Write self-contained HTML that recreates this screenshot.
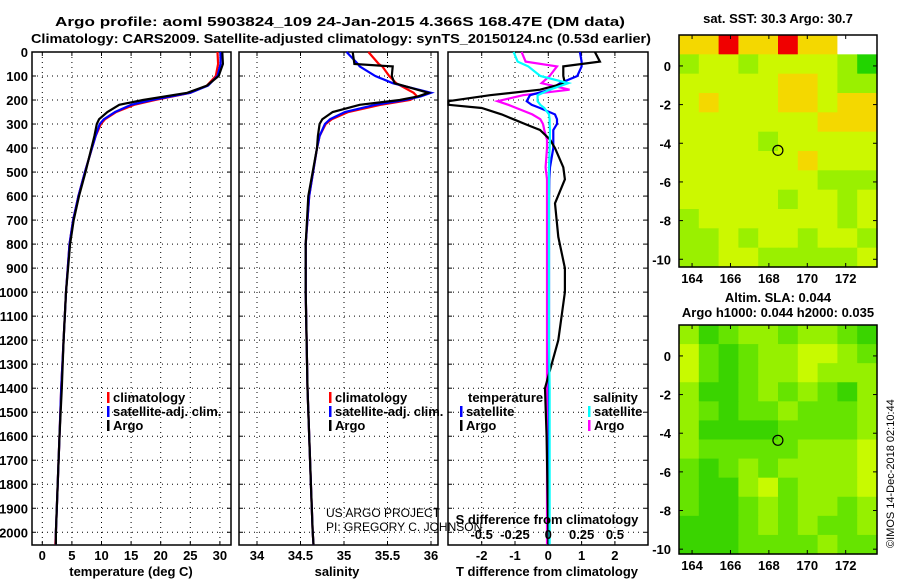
<!DOCTYPE html>
<html><head><meta charset="utf-8"><style>
body{margin:0;background:#fff;width:900px;height:580px;overflow:hidden}
svg{font-family:"Liberation Sans",sans-serif;display:block}
.b{font-weight:bold;font-size:13px}
</style></head><body>
<svg id="c" width="900" height="580" xmlns="http://www.w3.org/2000/svg">
<text class="b" x="55" y="26" font-size="15" textLength="570" lengthAdjust="spacingAndGlyphs">Argo profile: aoml 5903824_109 24-Jan-2015 4.366S 168.47E (DM data)</text>
<text class="b" x="31" y="43" font-size="14.5" textLength="620" lengthAdjust="spacingAndGlyphs">Climatology: CARS2009. Satellite-adjusted climatology: synTS_20150124.nc (0.53d earlier)</text>
<text class="b" x="778" y="23" text-anchor="middle" font-size="12">sat. SST: 30.3 Argo: 30.7</text>
<text class="b" x="778" y="302" text-anchor="middle" font-size="12">Altim. SLA: 0.044</text>
<text class="b" x="778" y="317" text-anchor="middle" font-size="12">Argo h1000: 0.044 h2000: 0.035</text>
<text x="0" y="0" font-size="11" transform="translate(894,548) rotate(-90)">©IMOS 14-Dec-2018 02:10:44</text>
<g id="g"></g>
</svg>
<script>
// ---- data ----
const depths=[0,50,100,140,170,200,220,250,280,300,350,400,500,600,700,800,1000,1200,1400,1600,1800,2000,2050];
const tempArgo=[30.4,30.5,29.8,27.8,24.5,17,13,11,9.6,9.2,8.8,8.3,7.3,6.2,5.3,4.7,4.0,3.6,3.3,2.9,2.6,2.3,2.3];
const tempClim=[29.6,29.7,29.3,27.8,25,19,15.5,12.5,10.6,9.9,9.0,8.4,7.2,6.1,5.2,4.6,4.0,3.6,3.2,2.9,2.6,2.3,2.2];
const tempSat=[30.1,30.1,29.6,28,25,18.5,15,12.3,10.4,9.7,9.0,8.4,7.2,6.1,5.2,4.6,4.0,3.6,3.2,2.9,2.6,2.3,2.3];
const salDepths=[0,50,60,100,130,170,185,200,220,250,280,300,350,400,600,800,1000,1400,1800,2000,2050];
const salArgo=[35.1,35.12,35.56,35.55,35.58,35.97,35.85,35.64,35.18,34.87,34.75,34.72,34.7,34.69,34.59,34.56,34.56,34.58,34.62,34.64,34.65];
const salClim=[35.28,35.4,35.44,35.52,35.6,35.8,35.84,35.76,35.42,35.05,34.86,34.79,34.72,34.69,34.6,34.56,34.56,34.58,34.62,34.64,34.65];
const salSat=[35.03,35.16,35.18,35.36,35.56,36.0,35.88,35.7,35.36,35.01,34.84,34.78,34.72,34.69,34.6,34.56,34.56,34.58,34.62,34.64,34.65];
const diffDepths=[0,40,60,100,130,157,180,205,220,233,260,280,300,325,365,400,480,530,630,770,900,1000,1200,1400,1600,2000,2050];
const dTArgo=[1.4,1.55,0.45,0.45,0.5,-0.25,-1.75,-3,-3,-2,-1.4,-1.05,-0.7,-0.25,0.05,0.2,0.45,0.5,0.2,0.3,0.5,0.5,0.3,-0.1,-0.05,0,0];
const dTSat=[0.95,1.0,1.0,0.87,0.35,0.05,-0.55,-0.65,-0.5,-0.25,0.2,0.26,0.26,0.15,0.15,0.15,0.05,0.03,0.02,0.02,0.02,0.02,0.02,0.02,0.02,0.02,0.02];
const dSArgo=[-0.2,-0.17,0.065,0.01,-0.05,0.16,-0.19,-0.38,-0.3,-0.24,-0.12,-0.06,-0.04,-0.03,-0.01,-0.01,-0.02,-0.01,-0.01,-0.01,-0.01,-0.01,-0.01,-0.01,-0.01,-0.01,-0.01];
const dSSat=[-0.26,-0.23,-0.15,-0.06,0.15,0.01,-0.08,-0.08,-0.06,-0.03,0.005,0.01,0.01,0.012,0.012,0.01,0.005,0.005,0.005,0.005,0.005,0.005,0.005,0.01,0.01,0.01,0.01];
const depthTicks=[0,100,200,300,400,500,600,700,800,900,1000,1100,1200,1300,1400,1500,1600,1700,1800,1900,2000];
const tempTicks=[0,5,10,15,20,25,30];
const salTicks=[34,34.5,35,35.5,36];
const salTickLabels=["34","34.5","35","35.5","36"];
const dTTicks=[-2,-1,0,1,2];
const dSTicks=[-0.5,-0.25,0,0.25,0.5];
const dSTickLabels=["-0.5","-0.25","0","0.25","0.5"];
const lonTicks=[164,166,168,170,172];
const latTicks=[0,-2,-4,-6,-8,-10];
const sstGrid=[
[3,3,4,3,3,4,3,3,5,5],[1,2,2,1,2,2,2,2,1,0],[2,2,2,2,2,3,3,2,1,1],[2,3,2,2,2,3,3,2,3,3],
[2,2,2,2,2,2,2,3,3,3],[2,2,2,2,1,2,2,2,2,2],[2,2,2,2,2,2,3,2,2,2],[2,2,2,2,2,2,2,1,1,1],
[2,2,2,2,2,1,2,2,1,2],[1,2,2,2,2,2,2,2,1,2],[1,1,2,1,2,2,1,2,2,1],[1,1,2,2,1,1,1,1,1,2]];
const slaGrid=[
[2,0,1,2,2,1,2,2,1,0],[3,1,0,1,2,2,3,3,2,1],[3,1,0,1,2,2,3,2,2,2],[2,0,0,1,2,1,2,1,0,2],
[2,1,0,1,1,2,1,1,1,2],[2,0,0,0,0,1,1,1,1,2],[2,1,1,1,1,1,2,2,2,3],[1,0,1,2,1,2,2,2,2,3],
[1,0,0,2,3,1,2,2,2,3],[1,0,0,1,2,1,2,2,1,2],[0,0,0,1,2,1,2,1,1,2],[0,0,0,1,1,1,1,2,1,1]];
const floatLon=168.47, floatLat=-4.366;

const NS="http://www.w3.org/2000/svg";
const G=document.getElementById('g');
function el(t,a,p){const e=document.createElementNS(NS,t);for(const k in a)e.setAttribute(k,a[k]);(p||G).appendChild(e);return e;}
function txt(x,y,s,a,p){const e=el('text',Object.assign({x:x,y:y},a||{}),p);e.textContent=s;return e;}

const TOP=52,BOT=545,DMAX=2053;
const yD=d=>TOP+(BOT-TOP)*d/DMAX;
function panel(name,x0,x1,dom,ticks,labels,xfn){
  const g=el('g',{});
  
  
  depthTicks.forEach(d=>{if(d>0){const y=yD(d);el('line',{x1:x0,x2:x1,y1:y,y2:y,stroke:'#000','stroke-dasharray':'1 4'},g);
    el('line',{x1:x0,x2:x0+4,y1:y,y2:y,stroke:'#000'},g);el('line',{x1:x1-4,x2:x1,y1:y,y2:y,stroke:'#000'},g);}});
  ticks.forEach(v=>{const x=xfn(v);el('line',{x1:x,x2:x,y1:TOP,y2:BOT,stroke:'#000','stroke-dasharray':'1 4'},g);
    el('line',{x1:x,x2:x,y1:TOP,y2:TOP+4,stroke:'#000'},g);el('line',{x1:x,x2:x,y1:BOT-4,y2:BOT,stroke:'#000'},g);});
  el('rect',{x:x0,y:TOP,width:x1-x0,height:BOT-TOP,fill:'none',stroke:'#000','stroke-width':1.5},g);
  return g;
}
function line(g,xs,ds,xfn,col,name){
  const pts=xs.map((v,i)=>xfn(v).toFixed(1)+','+yD(ds[i]).toFixed(1)).join(' ');
  const p=el('polyline',{points:pts,fill:'none',stroke:col,'stroke-width':2.2},g);
  
  
}
function legend(g,x,y,col,label,name){
  const r=el('rect',{x:x,y:y-10,width:2.5,height:11,fill:col},g);
  const t=txt(x+6,y,label,{class:'b'},g);
  
  
}
depthTicks.forEach(d=>{const t=txt(28,yD(d)+5,String(d),{class:'b','text-anchor':'end'});
  
  });

const xT=v=>42.3+5.92*v;
const p1=panel('temperature-panel',32,231,null,tempTicks,null,xT);
line(p1,tempClim,depths,xT,'#f00','temp-climatology-line');
line(p1,tempSat,depths,xT,'#00f','temp-satellite-line');
line(p1,tempArgo,depths,xT,'#000','temp-argo-line');
tempTicks.forEach(v=>txt(xT(v),560,String(v),{class:'b','text-anchor':'middle'}));
txt(131,576,'temperature (deg C)',{class:'b','text-anchor':'middle'});
legend(p1,107,402,'#f00','climatology','legend-climatology');
legend(p1,107,416,'#00f','satellite-adj. clim.','legend-satellite');
legend(p1,107,430,'#000','Argo','legend-argo');

const xS=v=>257+87*(v-34);
const p2=panel('salinity-panel',239,438,null,salTicks,null,xS);
line(p2,salClim,salDepths,xS,'#f00','sal-climatology-line');
line(p2,salSat,salDepths,xS,'#00f','sal-satellite-line');
line(p2,salArgo,salDepths,xS,'#000','sal-argo-line');
salTicks.forEach((v,i)=>txt(xS(v),560,salTickLabels[i],{class:'b','text-anchor':'middle'}));
txt(337,576,'salinity',{class:'b','text-anchor':'middle'});
legend(p2,329,402,'#f00','climatology','legend-climatology');
legend(p2,329,416,'#00f','satellite-adj. clim.','legend-satellite');
legend(p2,329,430,'#000','Argo','legend-argo');
txt(326,517,'US ARGO PROJECT',{'font-size':12});
txt(326,531,'PI: GREGORY C. JOHNSON',{'font-size':12});

const xDT=v=>548.3+33.3*v;
const xDS=v=>548.3+133.3*v;
const p3=panel('difference-panel',448,648,null,dTTicks,null,xDT);
line(p3,dSArgo,diffDepths,xDS,'#f0f','sal-argo-diff-line');
line(p3,dTSat,diffDepths,xDT,'#00f','temp-satellite-diff-line');
line(p3,dTArgo,diffDepths,xDT,'#000','temp-argo-diff-line');
line(p3,dSSat,diffDepths,xDS,'#0ff','sal-satellite-diff-line');
dTTicks.forEach(v=>txt(xDT(v),560,String(v),{class:'b','text-anchor':'middle'}));
dSTicks.forEach((v,i)=>txt(xDS(v),539,dSTickLabels[i],{class:'b','text-anchor':'middle'}));
txt(547,524,'S difference from climatology',{class:'b','text-anchor':'middle'});
txt(547,576,'T difference from climatology',{class:'b','text-anchor':'middle'});
txt(468,402,'temperature',{class:'b'});
legend(p3,460,416,'#00f','satellite','legend-temp-satellite');
legend(p3,460,430,'#000','Argo','legend-temp-argo');
txt(593,402,'salinity',{class:'b'});
legend(p3,588,416,'#0ff','satellite','legend-sal-satellite');
legend(p3,588,430,'#f0f','Argo','legend-sal-argo');

const LON0=163.32,LON1=173.63,MX0=679,MX1=877;
const lx=v=>MX0+(MX1-MX0)*(v-LON0)/(LON1-LON0);
function map(name,top,bot,lat0,lat1,grid,colors){
  const g=el('g',{});
  
  
  const ly=v=>top+(bot-top)*(lat0-v)/(lat0-lat1);
  const rows=grid.length,cols=grid[0].length,cw=(MX1-MX0)/cols,ch=(bot-top)/rows;
  grid.forEach((r,i)=>r.forEach((v,j)=>{
    const c=el('rect',{x:MX0+j*cw,y:top+i*ch,width:cw+0.6,height:ch+0.6,fill:colors[v]},g);
    
    
  }));
  el('rect',{x:MX0,y:top,width:MX1-MX0,height:bot-top,fill:'none',stroke:'#000','stroke-width':1.5},g);
  lonTicks.forEach(v=>{const x=lx(v);el('line',{x1:x,x2:x,y1:bot,y2:bot-4,stroke:'#000'},g);el('line',{x1:x,x2:x,y1:top,y2:top+4,stroke:'#000'},g);
    txt(x,bot+16,String(v),{class:'b','text-anchor':'middle'},g);});
  latTicks.forEach(v=>{const y=ly(v);el('line',{x1:MX0,x2:MX0+4,y1:y,y2:y,stroke:'#000'},g);el('line',{x1:MX1-4,x2:MX1,y1:y,y2:y,stroke:'#000'},g);
    txt(MX0-8,y+5,String(v),{class:'b','text-anchor':'end'},g);});
  const m=el('circle',{cx:lx(floatLon),cy:ly(floatLat),r:5,fill:'none',stroke:'#000','stroke-width':1.2},g);
  
  
}
map('sst-map',35,267,1.6,-10.4,sstGrid,['#22d400','#9af000','#ccf800','#f4d800','#f00000','#ffffff']);
map('sla-map',325,554,1.6,-10.25,slaGrid,['#3ad400','#66e400','#96f000','#c8fa00']);
</script>
</body></html>
